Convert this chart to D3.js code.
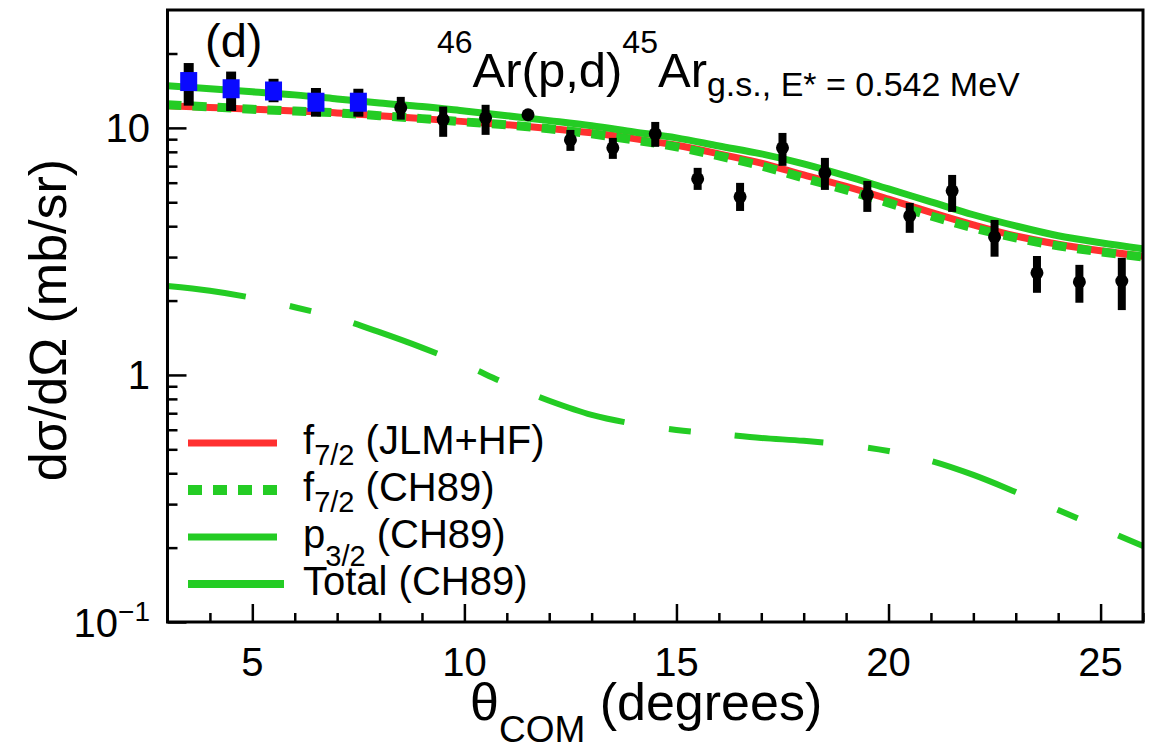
<!DOCTYPE html>
<html><head><meta charset="utf-8">
<script src="https://cdn.jsdelivr.net/npm/d3@7"></script>
<style>body{margin:0;background:#fff}svg{display:block}text{font-family:"Liberation Sans",Arial,Helvetica,sans-serif;fill:#000}</style>
</head><body><svg id="c" width="1157" height="752"></svg>
<script>
// ---- data ----
const angles = [3.5,4.5,5.5,6.5,7.5,8.5,9.5,10.5,11.5,12.5,13.5,14.5,15.5,16.5,17.5,18.5,19.5,20.5,21.5,22.5,23.5,24.5,25.5];
const xsec   = [15.4,14.4,14.1,12.7,12.7,12.05,10.8,10.98,11.3,8.94,8.3,9.46,6.22,5.26,8.3,6.57,5.36,4.40,5.56,3.62,2.59,2.38,2.40];
const errHi  = [18.3,16.9,15.8,14.5,14.4,13.35,12.2,12.4,11.6,9.81,9.11,10.57,6.89,5.99,9.54,7.56,6.10,4.97,6.45,4.24,3.03,2.79,2.98];
const errLo  = [12.3,11.7,12.7,11.1,11.1,10.8,9.2,9.37,11.0,8.07,7.49,8.38,5.61,4.61,7.02,5.61,4.57,3.76,4.57,3.01,2.15,1.96,1.83];
const blueCount = 5; // first five points drawn as blue squares

const thAngles = [3,4,5,6,7,8,9,10,11,12,13,14,15,16,17,18,19,20,21,22,23,24,25,26];
const f72JLM   = [12.3,12.1,11.9,11.7,11.5,11.2,10.9,10.6,10.3,9.95,9.55,9.05,8.5,7.85,7.2,6.45,5.8,5.15,4.55,4.05,3.65,3.38,3.18,3.02];
const f72CH89  = [12.4,12.16,11.9,11.7,11.5,11.2,10.9,10.57,10.28,9.91,9.46,8.94,8.38,7.70,7.02,6.27,5.61,4.97,4.40,3.94,3.59,3.33,3.15,3.00];
const p32CH89  = [2.29,2.19,2.05,1.88,1.70,1.49,1.29,1.10,0.92,0.786,0.689,0.634,0.599,0.577,0.556,0.541,0.521,0.492,0.449,0.394,0.336,0.284,0.240,0.203];
const totCH89  = [14.8,14.4,14.0,13.6,13.1,12.6,12.2,11.7,11.2,10.7,10.2,9.63,9.11,8.45,7.85,7.15,6.39,5.66,5.02,4.45,4.01,3.66,3.43,3.24];

const xMajor = [5,10,15,20,25];
const xMinor = [4,6,7,8,9,11,12,13,14,16,17,18,19,21,22,23,24,26];
const yMajor = [0.1,1,10];
const yMinor = [0.2,0.3,0.4,0.5,0.6,0.7,0.8,0.9,2,3,4,5,6,7,8,9,20];

// ---- layout ----
const L=167.5, R=1143, T=10, B=622;
const svg = d3.select("#c");
const x = d3.scaleLinear().domain([3,26]).range([L,R]);
const y = d3.scaleLog().domain([0.1,30]).range([B,T]);
const RED="#ff3030", GREEN="#24cc24", BLUE="#0a0aff";

svg.append("defs").append("clipPath").attr("id","clip").append("rect")
  .attr("x",L).attr("y",T).attr("width",R-L).attr("height",B-T);

// axes ticks
svg.append("g").attr("transform",`translate(0,${B})`).call(d3.axisBottom(x).tickValues(xMajor).tickSize(-18).tickFormat(""));
svg.append("g").attr("transform",`translate(0,${B})`).call(d3.axisBottom(x).tickValues(xMinor).tickSize(-9).tickFormat(""));
svg.append("g").attr("transform",`translate(${L},0)`).call(d3.axisLeft(y).tickValues(yMajor).tickSize(-19).tickFormat(""));
svg.append("g").attr("transform",`translate(${L},0)`).call(d3.axisLeft(y).tickValues(yMinor).tickSize(-10).tickFormat(""));
svg.selectAll(".domain").remove();
svg.selectAll(".tick line").attr("stroke","#000").attr("stroke-width",2.5);

// tick labels
svg.append("g").selectAll("text").data(xMajor).join("text")
  .attr("x",d=>x(d)).attr("y",676).attr("text-anchor","middle").attr("font-size",40).text(d=>d);
const yl = svg.append("g");
yl.append("text").attr("x",150).attr("y",y(10)+14).attr("text-anchor","end").attr("font-size",40).text("10");
yl.append("text").attr("x",150).attr("y",y(1)+14).attr("text-anchor","end").attr("font-size",40).text("1");
const ym = yl.append("text").attr("x",150).attr("y",y(0.1)+15).attr("text-anchor","end").attr("font-size",40);
ym.append("tspan").text("10");
ym.append("tspan").attr("font-size",28).attr("dy",-16).text("\u22121");

// curves
const line = d3.line().x((d,i)=>x(thAngles[i])).y(d=>y(d)).curve(d3.curveCatmullRom.alpha(0.5));
const cg = svg.append("g").attr("clip-path","url(#clip)").attr("fill","none");
cg.append("path").attr("d",line(f72JLM)).attr("stroke",RED).attr("stroke-width",7);
cg.append("path").attr("d",line(f72CH89)).attr("stroke",GREEN).attr("stroke-width",9).attr("stroke-dasharray","14,11");
cg.append("path").attr("d",line(totCH89)).attr("stroke",GREEN).attr("stroke-width",7);
cg.append("path").attr("d",line(p32CH89)).attr("stroke",GREEN).attr("stroke-width",6).attr("stroke-dasharray","89,45,22,44").attr("stroke-dashoffset",10);

// data points
const pg = svg.append("g");
pg.selectAll("line").data(angles).join("line")
  .attr("x1",d=>x(d)).attr("x2",d=>x(d))
  .attr("y1",(d,i)=>y(errHi[i])).attr("y2",(d,i)=>y(errLo[i]))
  .attr("stroke","#000").attr("stroke-width",(d,i)=>i<blueCount?10:8);
pg.selectAll("circle").data(angles.slice(blueCount)).join("circle")
  .attr("cx",d=>x(d)).attr("cy",(d,i)=>y(xsec[i+blueCount])).attr("r",6.5).attr("fill","#000");
pg.selectAll("rect").data(angles.slice(0,blueCount)).join("rect")
  .attr("x",d=>x(d)-8.5).attr("y",(d,i)=>y(xsec[i])-9.5).attr("width",17).attr("height",19).attr("fill",BLUE);

// frame
svg.append("rect").attr("x",L).attr("y",T).attr("width",R-L).attr("height",B-T)
  .attr("fill","none").attr("stroke","#000").attr("stroke-width",3);

// legend
const leg = [
  {main:"f", sub:"7/2", rest:" (JLM+HF)", color:RED, w:7, dash:null, x2:277, sdy:11},
  {main:"f", sub:"7/2", rest:" (CH89)", color:GREEN, w:10, dash:"14,11", x2:282, sdy:11},
  {main:"p", sub:"3/2", rest:"  (CH89)", color:GREEN, w:7, dash:null, x2:277, sdy:18},
  {main:"Total (CH89)", sub:"", rest:"", color:GREEN, w:8, dash:null, x2:284, sdy:0}
];
const lg = svg.append("g");
leg.forEach((d,i)=>{
  const cy = 443 + i*47;
  lg.append("line").attr("x1",188).attr("x2",d.x2).attr("y1",cy).attr("y2",cy)
    .attr("stroke",d.color).attr("stroke-width",d.w).attr("stroke-dasharray",d.dash);
  const t = lg.append("text").attr("x",303).attr("y",cy+11).attr("font-size",40);
  t.append("tspan").text(d.main);
  if(d.sub){
    t.append("tspan").attr("font-size",29).attr("dy",d.sdy).text(d.sub);
    t.append("tspan").attr("dy",-d.sdy).text(d.rest);
  }
});

// panel label and title
svg.append("text").attr("x",205).attr("y",57).attr("font-size",47).text("(d)");
const tt = svg.append("text").attr("x",437).attr("y",87).attr("font-size",49);
tt.append("tspan").attr("font-size",32).attr("dy",-34).text("46");
tt.append("tspan").attr("dy",34).text("Ar(p,d)");
tt.append("tspan").attr("font-size",32).attr("dy",-34).text("45");
tt.append("tspan").attr("dy",34).text("Ar");
tt.append("tspan").attr("font-size",34).attr("dy",9).text("g.s., E* = 0.542 MeV");

// axis titles
const xt = svg.append("text").attr("x",470).attr("y",720).attr("font-size",52);
xt.append("tspan").text("\u03b8");
xt.append("tspan").attr("font-size",37).attr("dy",22).text("COM");
xt.append("tspan").attr("dy",-22).text(" (degrees)");
svg.append("text").attr("transform","translate(66,320) rotate(-90)").attr("text-anchor","middle")
  .attr("font-size",52).text("d\u03c3/d\u03a9 (mb/sr)");
</script></body></html>
